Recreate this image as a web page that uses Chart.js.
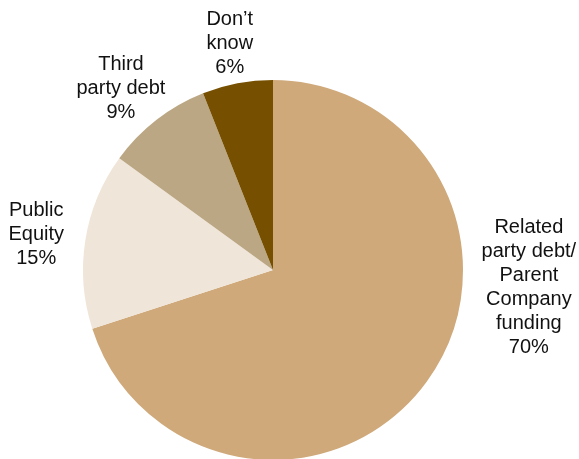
<!DOCTYPE html>
<html lang="en">

<head>
    <meta charset="UTF-8">
    <title>Funding sources</title>
    <script src="https://cdn.jsdelivr.net/npm/chart.js@4.4.0/dist/chart.umd.min.js"></script>
    <style>
        html, body { margin: 0; padding: 0; overflow: hidden; background: #fff; }
    </style>
</head>

<body>
<canvas id="chart" width="579" height="480"></canvas>

<script>
    // slices, clockwise from 12 o'clock
    const categories = [
        ['Related', 'party debt/', 'Parent', 'Company', 'funding'],
        ['Public', 'Equity'],
        ['Third', 'party debt'],
        ['Don\u2019t', 'know']
    ];
    const shares = [70, 15, 9, 6];
    const colours = ['#cfa97a', '#f0e5d9', '#bba783', '#765000'];

    // label anchor: angle in degrees clockwise from top (null = slice middle), distance in radii
    const labelAngle = [94, 278.5, 320, null];
    const labelDist = [1.35, 1.26, 1.245, 1.215];

    const sliceLabels = {
        id: 'sliceLabels',
        afterDatasetsDraw(chart) {
            const ctx = chart.ctx;
            const meta = chart.getDatasetMeta(0);
            ctx.save();
            ctx.font = '20px "Liberation Sans", Arial, sans-serif';
            ctx.fillStyle = '#111';
            ctx.textAlign = 'center';
            ctx.textBaseline = 'middle';
            meta.data.forEach((arc, i) => {
                const p = arc.getProps(['x', 'y', 'startAngle', 'endAngle', 'outerRadius'], true);
                let a = (p.startAngle + p.endAngle) / 2;
                if (labelAngle[i] !== null) a = (labelAngle[i] - 90) * Math.PI / 180;
                const cx = p.x + Math.cos(a) * p.outerRadius * labelDist[i];
                const cy = p.y + Math.sin(a) * p.outerRadius * labelDist[i];
                const lines = categories[i].concat([shares[i] + '%']);
                const lh = 24;
                const top = cy - (lines.length - 1) * lh / 2;
                lines.forEach((t, k) => ctx.fillText(t, cx, top + k * lh));
            });
            ctx.restore();
        }
    };

    const ctx = document.getElementById('chart').getContext('2d');
    new Chart(ctx, {
        type: 'pie',
        data: {
            labels: categories.map(c => c.join(' ')),
            datasets: [{
                data: shares,
                backgroundColor: colours,
                borderWidth: 0
            }]
        },
        options: {
            responsive: false,
            animation: false,
            layout: { padding: { top: 80, bottom: 20, left: 83, right: 116 } },
            plugins: {
                legend: { display: false },
                tooltip: { enabled: false }
            }
        },
        plugins: [sliceLabels]
    });
</script>
</body>

</html>
